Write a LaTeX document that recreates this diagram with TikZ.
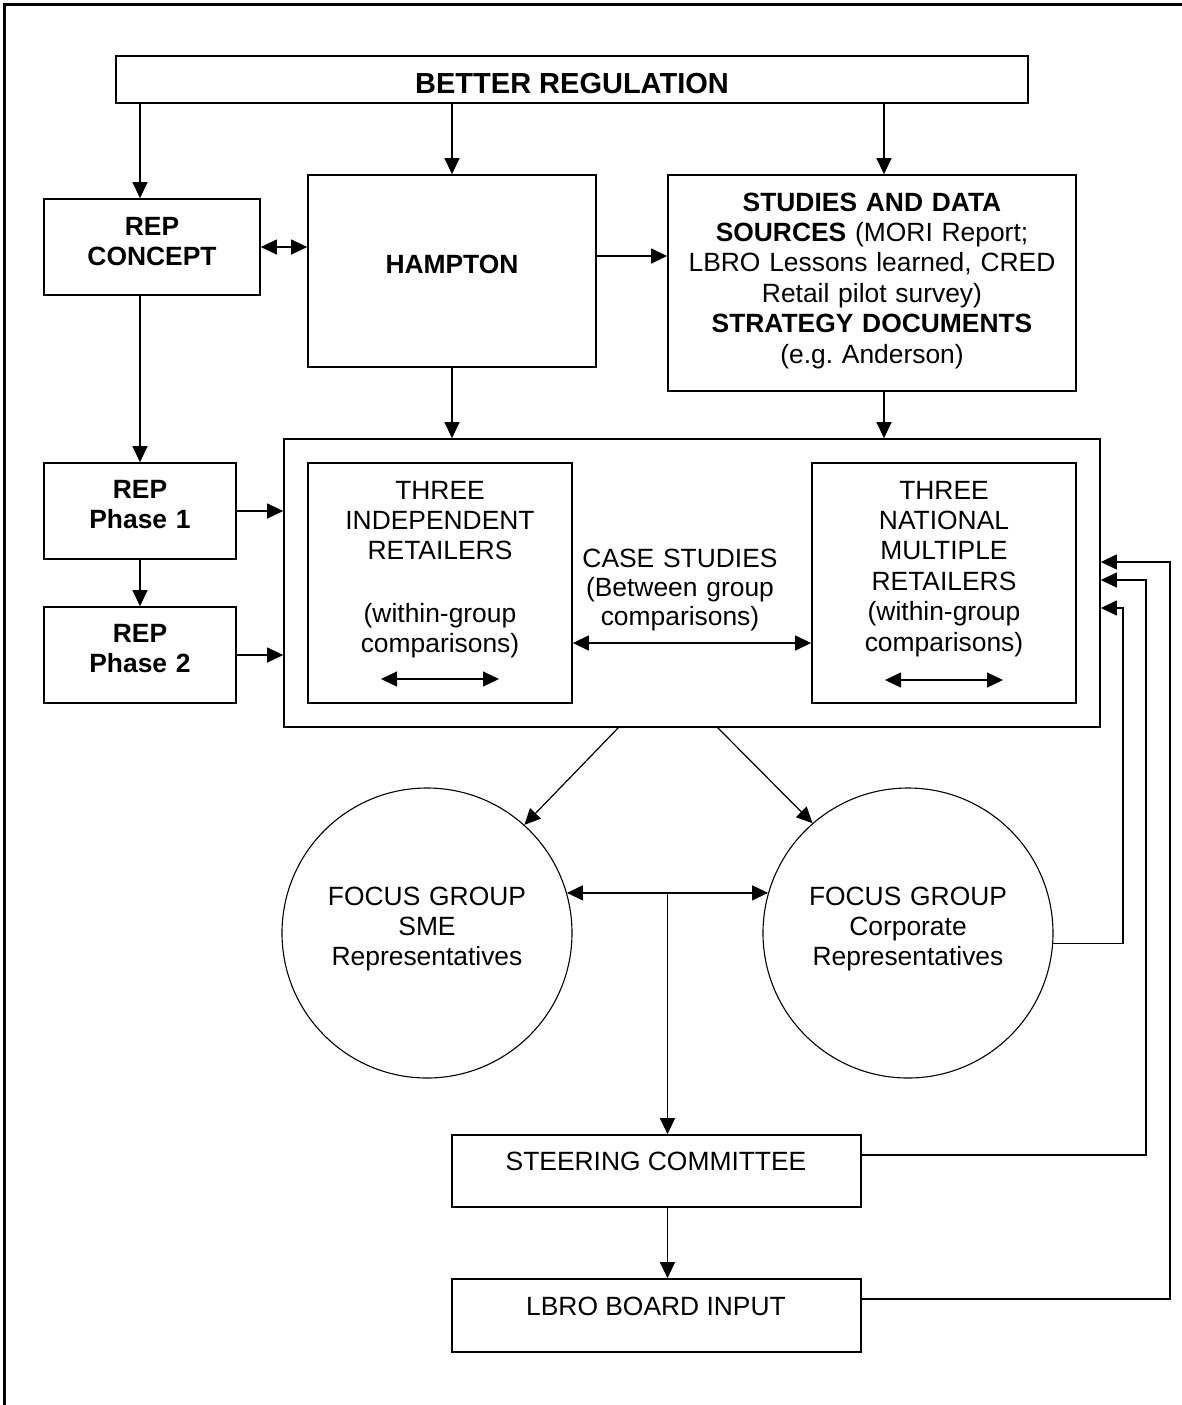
\documentclass[tikz,border=0pt]{standalone}
\usepackage{fontspec}
\setmainfont{Liberation Sans}
\usetikzlibrary{arrows.meta,calc}
\frenchspacing
\newcommand\rbox[5]{\node[box, minimum width={(#4-#2)*0.5pt}, minimum height={(#5-#3)*0.5pt}] (#1) at ({(#2+#4)/2},{(#3+#5)/2}) {};}
\begin{document}
\begin{tikzpicture}[x=0.5pt,y=-0.5pt,
  box/.style={draw, line width=0.85pt, inner sep=0pt},
  ring/.style={draw, circle, line width=0.55pt, inner sep=0pt, minimum size=145pt},
  txt/.style={font=\fontsize{13.2}{15.2}\selectfont, align=center, inner sep=0pt, anchor=base},
  btxt/.style={txt, font=\bfseries\fontsize{13.2}{15.2}\selectfont},
  arr/.style={-{Triangle[length=8pt,width=7.5pt]}, line width=0.6pt},
  darr/.style={{Triangle[length=8pt,width=7.5pt]}-{Triangle[length=8pt,width=7.5pt]}, line width=0.6pt}]
\useasboundingbox (0,0) rectangle (1182,1405);
% outer frame (left and top edges)
\draw[line width=1.1pt] (4.5,1405) -- (4.5,4.5) -- (1182,4.5);

% boxes
\rbox{br}{116}{56}{1028}{103}
\rbox{rc}{44}{199}{260}{295}
\rbox{ham}{308}{175}{596}{367}
\rbox{st}{668}{175}{1076}{391}
\rbox{big}{284}{439}{1100}{727}
\rbox{p1}{44}{463}{236}{559}
\rbox{p2}{44}{607}{236}{703}
\rbox{il}{308}{463}{572}{703}
\rbox{ir}{812}{463}{1076}{703}
\rbox{sc}{452}{1135}{861}{1207}
\rbox{lb}{452}{1279}{861}{1352}
\node[ring] (fl) at (427,933) {};
\node[ring] (fr) at (908,933) {};

% texts
\node[txt, font=\bfseries\fontsize{14.5}{16}\selectfont] (t-br) at (572,93) {BETTER REGULATION};
\node[btxt, text width=100pt] (t-rc) at (152,235) {REP\\CONCEPT};
\node[btxt] (t-ham) at (452,273) {HAMPTON};
\node[txt, text width=200pt] (t-st) at (872,211) {\textbf{STUDIES AND DATA}\\\textbf{SOURCES} (MORI Report;\\LBRO Lessons learned, CRED\\Retail pilot survey)\\\textbf{STRATEGY DOCUMENTS}\\(e.g. Anderson)};
\node[btxt, text width=90pt] (t-p1) at (140,498) {REP\\Phase 1};
\node[btxt, text width=90pt] (t-p2) at (140,642) {REP\\Phase 2};
\node[txt, text width=125pt] (t-il) at (440,499) {THREE\\INDEPENDENT\\RETAILERS\\[15.9pt](within-group\\comparisons)};
\node[txt, text width=125pt] (t-ir) at (944,499) {THREE\\NATIONAL\\MULTIPLE\\RETAILERS\\(within-group\\comparisons)};
\node[txt, text width=110pt, font=\fontsize{13.2}{14.6}\selectfont] (t-cs) at (680,567) {CASE STUDIES\\(Between group\\comparisons)};
\node[txt, text width=130pt] (t-fl) at (427,905) {FOCUS GROUP\\SME\\Representatives};
\node[txt, text width=130pt] (t-fr) at (908,905) {FOCUS GROUP\\Corporate\\Representatives};
\node[txt] (t-sc) at (656,1170) {STEERING COMMITTEE};
\node[txt] (t-lb) at (656,1315) {LBRO BOARD INPUT};

% helper coordinates
\coordinate (colS) at (884,0);
\coordinate (rowHS) at (0,256);
\coordinate (rowCS) at (0,643);
\coordinate (d1) at (619,727);
\coordinate (d2) at (717,727);
\coordinate (ila) at (381,679);
\coordinate (ilb) at (499,679);
\coordinate (ira) at (885,680);
\coordinate (irb) at (1003,680);
\coordinate (mid) at ($(fl.16)!0.5!(fr.164)$);
\coordinate (a1) at (1123,608);
\coordinate (b0) at (1146,1155);
\coordinate (b1) at (1146,580);
\coordinate (c0) at (1170,1299);
\coordinate (c1) at (1170,562);

% connectors
\draw[arr] (br.south -| p1) -- (rc.north -| p1);
\draw[arr] (br.south -| ham) -- (ham.north);
\draw[arr] (br.south -| colS) -- (st.north -| colS);
\draw[darr] (rc.east) -- (rc.east -| ham.west);
\draw[arr] (ham.east |- rowHS) -- (st.west |- rowHS);
\draw[arr] (ham.south) -- (ham.south |- big.north);
\draw[arr] (st.south -| colS) -- (big.north -| colS);
\draw[arr] (rc.south -| p1) -- (p1.north);
\draw[arr] (p1.east) -- (p1.east -| big.west);
\draw[arr] (p1.south) -- (p2.north);
\draw[arr] (p2.east) -- (p2.east -| big.west);
\draw[darr] (il.east |- rowCS) -- (ir.west |- rowCS);
\draw[darr] (ila) -- (ilb);
\draw[darr] (ira) -- (irb);
\draw[arr] (d1) -- (fl.48);
\draw[arr] (d2) -- (fr.131);
\draw[darr] (fl.16) -- (fr.164);
\draw[arr] (mid) -- (mid |- sc.north);
\draw[arr] (sc.south -| mid) -- (lb.north -| mid);
\draw[arr] (fr.-4) -| (a1) -- (a1 -| big.east);
\draw[arr] (sc.east |- b0) -- (b0) -- (b1) -- (b1 -| big.east);
\draw[arr] (lb.east |- c0) -- (c0) -- (c1) -- (c1 -| big.east);
\end{tikzpicture}
\end{document}
